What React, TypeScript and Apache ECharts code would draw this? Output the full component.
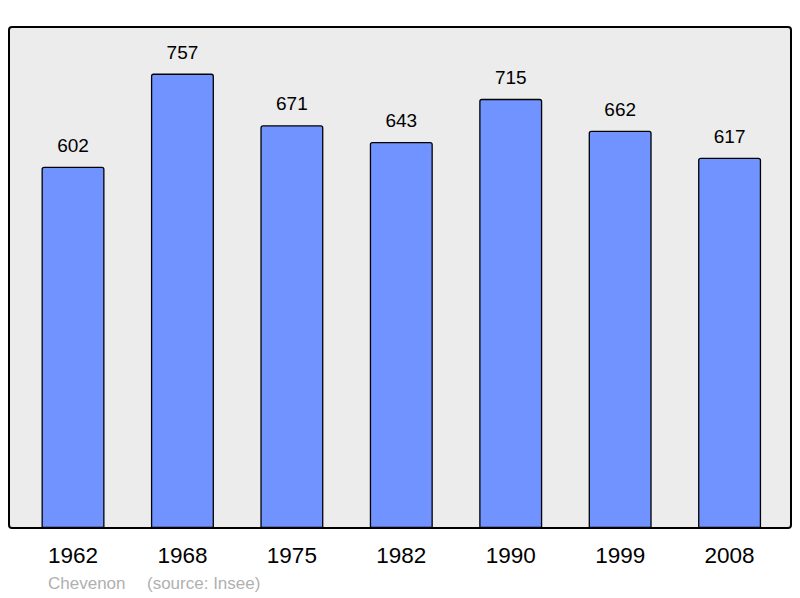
import React, { useEffect, useRef } from "react";
import * as echarts from "echarts";

const years = ["1962", "1968", "1975", "1982", "1990", "1999", "2008"];
const population = [602, 757, 671, 643, 715, 662, 617];
const placeName = "Chevenon";
const sourceText = "(source: Insee)";

export default function App() {
  const ref = useRef<HTMLDivElement>(null);
  useEffect(() => {
    document.body.style.margin = "0";
    const chart = echarts.init(ref.current!, null, { renderer: "svg" });
    chart.setOption({
      animation: false,
      graphic: [
        {
          type: "rect",
          z: -10,
          silent: true,
          shape: { x: 9, y: 27, width: 782, height: 501, r: 3 },
          style: { fill: "#ececec", stroke: "#000", lineWidth: 2 },
        },
        {
          type: "text",
          left: 48,
          top: 575,
          style: { text: placeName, fill: "#b0b0b0", font: "17px 'Liberation Sans', Arial, sans-serif" },
        },
        {
          type: "text",
          left: 147,
          top: 575,
          style: { text: sourceText, fill: "#b0b0b0", font: "17px 'Liberation Sans', Arial, sans-serif" },
        },
      ],
      grid: { left: 18.3, right: 800 - 784.3, top: 28, bottom: 70 },
      xAxis: {
        type: "category",
        data: years,
        axisLine: { show: false },
        axisTick: { show: false },
        axisLabel: {
          color: "#000",
          fontSize: 22.5,
          fontFamily: "'Liberation Sans', Arial, sans-serif",
          margin: 16,
        },
      },
      yAxis: {
        type: "value",
        min: 0,
        max: 833,
        show: false,
        splitLine: { show: false },
      },
      series: [
        {
          type: "bar",
          data: population,
          barWidth: 63,
          itemStyle: { color: "#7093ff", borderColor: "#000", borderWidth: 1.3, borderRadius: [2, 2, 0, 0] },
          label: {
            show: true,
            position: "top",
            distance: 12,
            color: "#000",
            fontSize: 19,
            fontFamily: "'Liberation Sans', Arial, sans-serif",
          },
        },
      ],
    });
    return () => chart.dispose();
  }, []);
  return <div ref={ref} style={{ width: 800, height: 598 }} />;
}
